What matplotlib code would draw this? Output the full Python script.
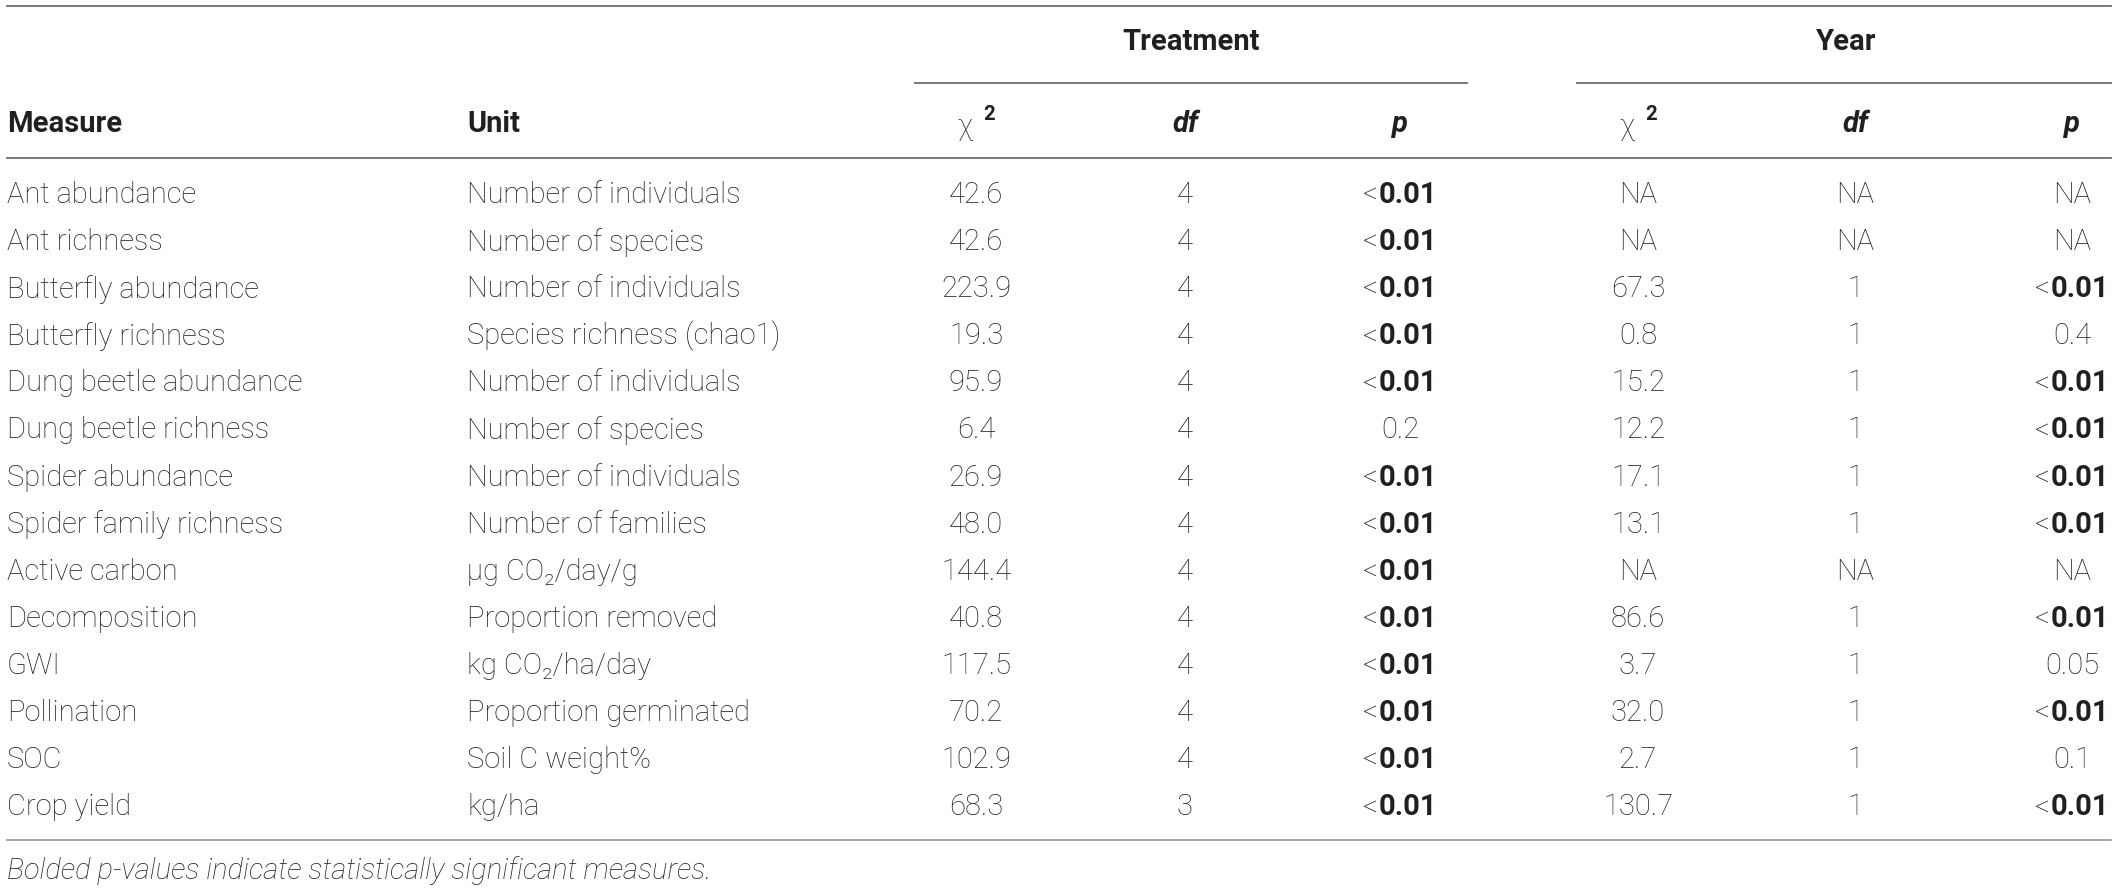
import matplotlib
matplotlib.use("Agg")
import matplotlib.pyplot as plt

measures = ["Ant abundance", "Ant richness", "Butterfly abundance", "Butterfly richness",
            "Dung beetle abundance", "Dung beetle richness", "Spider abundance",
            "Spider family richness", "Active carbon", "Decomposition", "GWI",
            "Pollination", "SOC", "Crop yield"]
units = ["Number of individuals", "Number of species", "Number of individuals",
         "Species richness (chao1)", "Number of individuals", "Number of species",
         "Number of individuals", "Number of families", "µg CO₂/day/g",
         "Proportion removed", "kg CO₂/ha/day", "Proportion germinated",
         "Soil C weight%", "kg/ha"]
trt_chi = [42.6, 42.6, 223.9, 19.3, 95.9, 6.4, 26.9, 48.0, 144.4, 40.8, 117.5, 70.2, 102.9, 68.3]
trt_df = [4, 4, 4, 4, 4, 4, 4, 4, 4, 4, 4, 4, 4, 3]
trt_p = ["<0.01", "<0.01", "<0.01", "<0.01", "<0.01", "0.2", "<0.01", "<0.01",
         "<0.01", "<0.01", "<0.01", "<0.01", "<0.01", "<0.01"]
yr_chi = [None, None, 67.3, 0.8, 15.2, 12.2, 17.1, 13.1, None, 86.6, 3.7, 32.0, 2.7, 130.7]
yr_df = [None, None, 1, 1, 1, 1, 1, 1, None, 1, 1, 1, 1, 1]
yr_p = ["NA", "NA", "<0.01", "0.4", "<0.01", "<0.01", "<0.01", "<0.01",
        "NA", "<0.01", "0.05", "<0.01", "0.1", "<0.01"]
footnote = "Bolded p-values indicate statistically significant measures."

FAM = ["Roboto", "DejaVu Sans"]
TXT = "#231f20"
LINE = "#7a7a7a"
FS = 21

fig = plt.figure(figsize=(21.18, 8.93), dpi=100)
ax = fig.add_axes([0, 0, 1, 1])
ax.set_xlim(0, 2118)
ax.set_ylim(893, 0)
ax.axis("off")
renderer = fig.canvas.get_renderer()


def txt(x, y, s, ha="center", weight="light", style="normal", size=FS):
    return ax.text(x, y, s, ha=ha, va="center", fontsize=size, family=FAM,
                   fontweight=weight, fontstyle=style, color=TXT)


def width(t):
    return t.get_window_extent(renderer).width


def pval(x, y, s):
    # significant values: light "<" followed by bold number, centred together
    if not s.startswith("<"):
        txt(x, y, s)
        return
    lt = txt(0, y, "<", ha="left")
    num = txt(0, y, s[1:], ha="left", weight="bold")
    w1, w2 = width(lt), width(num)
    left = x - (w1 + w2) / 2
    lt.set_x(left)
    num.set_x(left + w1)


def fmt(v):
    if v is None:
        return "NA"
    if isinstance(v, int):
        return str(v)
    return f"{v:.1f}"


# column centres
x_meas, x_unit = 7, 467
cols_t = [976, 1185, 1400]
cols_y = [1638, 1855, 2072]

# rules
ax.plot([7, 2111], [6, 6], color=LINE, lw=1.4)
ax.plot([915, 1467], [83, 83], color=LINE, lw=1.4)
ax.plot([1577, 2111], [83, 83], color=LINE, lw=1.4)
ax.plot([7, 2111], [158, 158], color=LINE, lw=1.4)
ax.plot([7, 2111], [840, 840], color="#a8a8a8", lw=1.4)

# group headers
txt(1191, 42, "Treatment", weight="bold")
txt(1846, 42, "Year", weight="bold")

# sub headers
y_sub = 124
txt(x_meas, y_sub, "Measure", ha="left", weight="bold")
txt(x_unit, y_sub, "Unit", ha="left", weight="bold")
for cols in (cols_t, cols_y):
    ax.text(cols[0] - 4, y_sub + 3, "χ", ha="right", va="center", fontsize=FS,
            family=FAM, fontweight="light", color=TXT)
    ax.text(cols[0] + 7, y_sub - 10, "2", ha="left", va="center", fontsize=FS * 0.7,
            family=FAM, fontweight="bold", color=TXT)
    txt(cols[1], y_sub, "df", weight="bold", style="italic")
    txt(cols[2], y_sub, "p", weight="bold", style="italic")

# body
y0, dy = 195, 47.1
for i, m in enumerate(measures):
    y = y0 + i * dy
    txt(x_meas, y, m, ha="left")
    txt(x_unit, y, units[i], ha="left")
    txt(cols_t[0], y, fmt(trt_chi[i]))
    txt(cols_t[1], y, fmt(trt_df[i]))
    pval(cols_t[2], y, trt_p[i])
    txt(cols_y[0], y, fmt(yr_chi[i]))
    txt(cols_y[1], y, fmt(yr_df[i]))
    pval(cols_y[2], y, yr_p[i])

txt(x_meas, 871, footnote, ha="left", style="italic")

fig.savefig("out.png", dpi=100, facecolor="white")
